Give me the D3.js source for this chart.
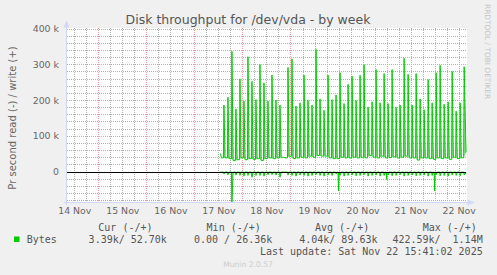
<!DOCTYPE html>
<html>
<head>
<meta charset="utf-8">
<script src="https://cdn.jsdelivr.net/npm/d3@7"></script>
<style>
  body { margin: 0; background: #f0f0f0; }
  svg { display: block; font-family: "DejaVu Sans", sans-serif; }
  .mono { font-family: "DejaVu Sans Mono", monospace; font-size: 10px; fill: #555; white-space: pre; }
</style>
</head>
<body>
<div id="main"></div>
<script>
// values in k (bytes per second), one spike every 2 hours from 17 Nov 14:45
const writePeaks = [
  186, 208, 336, 175, 259, 197, 321, 252, 201, 299,
  248, 197, 270, 200, 186, 40, 291, 315, 183, 192,
  270, 199, 186, 342, 203, 171, 270, 201, 214, 276,
  190, 244, 267, 199, 269, 299, 180, 195, 285, 192,
  274, 190, 285, 180, 186, 317, 272, 186, 274, 203,
  173, 257, 192, 276, 297, 188, 195, 280, 169, 192,
  293
];
const writeTroughs = [
  38, 36, 31, 33, 38, 33, 36, 34, 36, 31,
  36, 38, 36, 38, 40, 38, 43, 36, 38, 40,
  38, 43, 40, 45, 43, 43, 38, 36, 36, 40,
  38, 38, 40, 38, 40, 38, 45, 40, 38, 43,
  38, 39, 41, 38, 40, 43, 38, 38, 32, 38,
  38, 36, 34, 38, 36, 38, 34, 40, 36, 38
];
const writeLead = [50, 38];
const writeCur = 52.7;

const readDips = [
  7, 9, 86, 10, 11, 13, 11, 16, 11, 11,
  13, 9, 9, 10, 16, 2, 10, 11, 13, 10,
  11, 13, 11, 9, 11, 13, 10, 11, 7, 11,
  13, 11, 10, 12, 11, 9, 13, 11, 10, 13,
  11, 10, 12, 11, 9, 13, 11, 10, 12, 11,
  10, 13, 11, 9, 12, 11, 13, 10, 11, 12,
  10
];
const readMidnight = [["2025-11-20", 54], ["2025-11-21", 22], ["2025-11-22", 54]];
const readBase = 1.5;
const readCur = 3.39;

const xLabels = ["14 Nov", "15 Nov", "16 Nov", "17 Nov", "18 Nov", "19 Nov", "20 Nov", "21 Nov", "22 Nov"];
const yTicks = [0, 100, 200, 300, 400];
const legendHead = ["Cur (-/+)", "Min (-/+)", "Avg (-/+)", "Max (-/+)"];
const legendVals = ["3.39k/ 52.70k", "0.00 / 26.36k", "4.04k/ 89.63k", "422.59k/  1.14M"];

const W = 497, H = 275;
const M = 60e3;
const slotStart = Date.UTC(2025, 10, 17, 14, 45);
const dataStart = Date.UTC(2025, 10, 17, 13, 0);
const lastUpdate = Date.UTC(2025, 10, 22, 15, 41);
const slotTimes = writePeaks.map((_, i) => slotStart + i * 120 * M);

const tStart = Date.UTC(2025, 10, 14, 8, 22);
const tEnd = Date.UTC(2025, 10, 22, 16, 10);
const x = d3.scaleUtc().domain([tStart, tEnd]).range([67, 467]);
const y = d3.scaleLinear().domain([-86.7, 400]).range([202.5, 28.5]);

const svg = d3.select("#main").append("svg").attr("width", W).attr("height", H);
svg.append("rect").attr("width", W).attr("height", H).attr("fill", "#f0f0f0");
svg.append("rect").attr("x", 67).attr("y", 28).attr("width", 400).attr("height", 175).attr("fill", "#fff");

// grid, drawn as 1px dots: every 6 hours / 20k, red every day / 100k
const sixHours = d3.range(Date.UTC(2025, 10, 14, 12), tEnd, 6 * 60 * M);
const minorX = sixHours.filter((t) => new Date(t).getUTCHours() !== 0);
const majorX = sixHours.filter((t) => new Date(t).getUTCHours() === 0);
const minorY = d3.range(-80, 401, 20).filter((v) => v % 100 !== 0);
const grid = svg.append("g").attr("shape-rendering", "crispEdges");

function vLines(data, colour) {
  grid.append("g").attr("fill", colour).selectAll("g").data(data).enter().append("g")
    .selectAll("rect").data((d) => d3.range(28, 203, 2).map((yy) => [Math.round(x(d)), yy]))
    .enter().append("rect")
    .attr("x", (p) => p[0]).attr("y", (p) => p[1]).attr("width", 1).attr("height", 1);
}
function hLines(data, colour) {
  grid.append("g").attr("fill", colour).selectAll("g").data(data).enter().append("g")
    .selectAll("rect").data((d) => d3.range(67, 467, 2).map((xx) => [xx, Math.round(y(d))]))
    .enter().append("rect")
    .attr("x", (p) => p[0]).attr("y", (p) => p[1]).attr("width", 1).attr("height", 1);
}
vLines(minorX, "#b0b0b0");
hLines(minorY, "#b0b0b0");
vLines(majorX, "#f09a9a");
hLines(yTicks.filter((v) => v > 0), "#f09a9a");

// series
const line = d3.line().x((d) => x(d[0])).y((d) => y(d[1]));

const wPts = [[dataStart, writeLead[0]], [dataStart + 30 * M, writeLead[1]]];
const wSails = [];
slotTimes.forEach((t, i) => {
  const prev = i ? writeTroughs[i - 1] : writeLead[1];
  const after = i === slotTimes.length - 1 ? [lastUpdate, writeCur] : [t + 35 * M, writeTroughs[i]];
  const sail = [[t - 15 * M, prev], [t, writePeaks[i]], after];
  wPts.push(...sail);
  wSails.push(sail);
});

const rSails = [];
slotTimes.forEach((t, i) => {
  const after = i === slotTimes.length - 1 ? [lastUpdate, -readCur] : [t + 35 * M, -readBase];
  rSails.push([[t - 15 * M, -readBase], [t, -readDips[i]], after]);
});
readMidnight.forEach(([day, v]) => {
  const t = Date.parse(day + "T00:00:00Z");
  rSails.push([[t - 15 * M, -readBase], [t, -v], [t + 15 * M, -readBase]]);
});
const rPts = [[dataStart, -readBase]].concat(...rSails).sort((a, b) => a[0] - b[0]);

const series = svg.append("g");
series.selectAll("path").data(wSails.concat(rSails)).enter().append("path")
  .attr("d", (d) => line(d) + "Z").attr("fill", "#92e092");
series.append("path").attr("d", line(wPts)).attr("fill", "none").attr("stroke", "#00cc00").attr("stroke-width", 1);
series.append("path").attr("d", line(rPts)).attr("fill", "none").attr("stroke", "#00cc00").attr("stroke-width", 1);

// zero line
svg.append("line").attr("x1", 67).attr("x2", x(lastUpdate))
  .attr("y1", Math.round(y(0)) + 0.5).attr("y2", Math.round(y(0)) + 0.5)
  .attr("stroke", "#000").attr("stroke-width", 1);

// axes
const axisCol = "#cfd6f8";
svg.append("line").attr("x1", 66.5).attr("x2", 66.5).attr("y1", 205).attr("y2", 24).attr("stroke", axisCol);
svg.append("line").attr("x1", 64).attr("x2", 470).attr("y1", 202.5).attr("y2", 202.5).attr("stroke", axisCol);
svg.append("path").attr("d", "M63.5,27.5L66.5,20.5L69.5,27.5Z").attr("fill", axisCol);
svg.append("path").attr("d", "M467.5,199.5L474.5,202.5L467.5,205.5Z").attr("fill", axisCol);

const xAxis = svg.append("g").attr("transform", "translate(0,203)")
  .call(d3.axisBottom(x).tickValues(xLabels.map((_, i) => Date.UTC(2025, 10, 14 + i, 12)))
    .tickSize(0).tickPadding(4).tickFormat((d, i) => xLabels[i]));
xAxis.select(".domain").remove();
xAxis.selectAll("text").attr("font-size", "9.4px").attr("font-family", "DejaVu Sans").attr("fill", "#666");

const yAxis = svg.append("g").attr("transform", "translate(59,0)")
  .call(d3.axisLeft(y).tickValues(yTicks).tickSize(0).tickPadding(0)
    .tickFormat((v) => (v === 0 ? "0" : v + " k")));
yAxis.select(".domain").remove();
yAxis.selectAll("text").attr("font-size", "9.4px").attr("font-family", "DejaVu Sans").attr("fill", "#666");

// texts
svg.append("text").attr("x", 248).attr("y", 24).attr("text-anchor", "middle")
  .attr("font-size", "12.5px").attr("fill", "#555").text("Disk throughput for /dev/vda - by week");
svg.append("text").attr("transform", "translate(15.5,118) rotate(-90)").attr("text-anchor", "middle")
  .attr("font-size", "10px").attr("fill", "#666").text("Pr second read (-) / write (+)");
svg.append("text").attr("transform", "translate(485,4) rotate(90)").attr("text-anchor", "start")
  .attr("font-size", "7.4px").attr("fill", "#c4c4c4").text("RRDTOOL / TOBI OETIKER");
svg.append("text").attr("x", 248).attr("y", 267).attr("text-anchor", "middle")
  .attr("font-size", "7.6px").attr("fill", "#cccccc").text("Munin 2.0.57");

// legend
const headX = [98.3, 206.6, 315, 422.7];
const valX = [166.9, 272.3, 377.5, 482.7];
svg.selectAll("text.head").data(legendHead).enter().append("text").attr("class", "mono")
  .attr("x", (d, i) => headX[i]).attr("y", 231.3).text((d) => d);
svg.selectAll("text.val").data(legendVals).enter().append("text").attr("class", "mono")
  .attr("x", (d, i) => valX[i]).attr("y", 243).attr("text-anchor", "end").text((d) => d);
svg.append("rect").attr("x", 14).attr("y", 236.5).attr("width", 5.5).attr("height", 5.5).attr("fill", "#00cc00");
svg.append("text").attr("class", "mono").attr("x", 26.7).attr("y", 243).text("Bytes");
svg.append("text").attr("class", "mono").attr("x", 482.7).attr("y", 254.6).attr("text-anchor", "end")
  .text("Last update: Sat Nov 22 15:41:02 2025");
</script>
</body>
</html>
